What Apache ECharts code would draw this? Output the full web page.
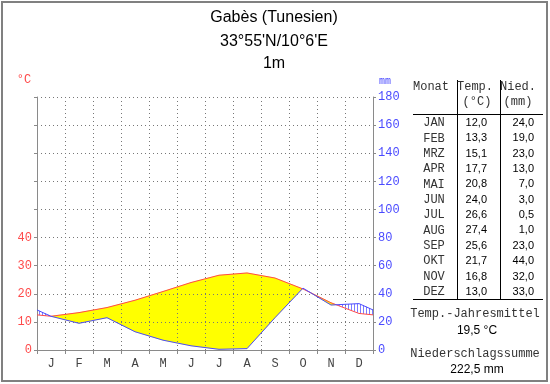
<!DOCTYPE html>
<html><head><meta charset="utf-8">
<script src="https://cdn.jsdelivr.net/npm/echarts@6/dist/echarts.min.js"></script>
<style>html,body{margin:0;padding:0;background:#fff}#c{width:550px;height:384px}</style>
</head><body><div id="c"></div>
<script>
// ---- data ----
const titleLines = ['Gabès (Tunesien)', '33°55\'N/10°6\'E', '1m'];
const monthLetters = ['J','F','M','A','M','J','J','A','S','O','N','D'];
const monthNames = ['JAN','FEB','MRZ','APR','MAI','JUN','JUL','AUG','SEP','OKT','NOV','DEZ'];
const temps = [12.0, 13.3, 15.1, 17.7, 20.8, 24.0, 26.6, 27.4, 25.6, 21.7, 16.8, 13.0];
const precip = [24.0, 19.0, 23.0, 13.0, 7.0, 3.0, 0.5, 1.0, 23.0, 44.0, 32.0, 33.0];
const tempTickLabels = [0, 10, 20, 30, 40];
const precipTickLabels = [0, 20, 40, 60, 80, 100, 120, 140, 160, 180];

// ---- derived line points (month centres, wrapped edges) ----
const edgeT = (temps[0] + temps[11]) / 2, edgeP = (precip[0] + precip[11]) / 2;
const px = [0], pT = [edgeT], pP = [edgeP];
for (let i = 0; i < 12; i++) { px.push(i + 0.5); pT.push(temps[i]); pP.push(precip[i]); }
px.push(12); pT.push(edgeT); pP.push(edgeP);

// fill geometry in mm units (1 °C = 2 mm), split at crossing points
const fx = [], fT = [], fP = [];
for (let k = 0; k < px.length; k++) {
  fx.push(px[k]); fT.push(pT[k] * 2); fP.push(pP[k]);
  if (k < px.length - 1) {
    const d1 = 2 * pT[k] - pP[k], d2 = 2 * pT[k + 1] - pP[k + 1];
    if (d1 * d2 < 0) {
      const t = d1 / (d1 - d2);
      fx.push(px[k] + t * (px[k + 1] - px[k]));
      const m = 2 * pT[k] + t * (2 * pT[k + 1] - 2 * pT[k]);
      fT.push(m); fP.push(m);
    }
  }
}
const segData = [];
for (let k = 0; k < fx.length - 1; k++) segData.push([fx[k], fx[k + 1], fT[k], fT[k + 1], fP[k], fP[k + 1]]);

const fmt = v => v.toFixed(1).replace('.', ',');
const meanT = temps.reduce((a, b) => a + b, 0) / temps.length;
const sumP = precip.reduce((a, b) => a + b, 0);

const RED = '#ff4a4a', BLUE = '#4a4aff', HATCH = '#7c7cff', GRAY = '#8a8a8a';
const MONO = 'Liberation Mono, DejaVu Sans Mono, monospace';
const SANS = 'Liberation Sans, Arial, sans-serif';

// ---- graphics: title, table ----
const g = [];
g.push({type: 'rect', shape: {x: 2, y: 2, width: 545, height: 379}, style: {fill: 'none', stroke: '#808080', lineWidth: 2}, silent: true});
const titleY = [18, 42, 64];
titleLines.forEach((t, i) => g.push({type: 'text', x: 274, y: titleY[i], style: {text: t, font: '16px ' + SANS, fill: '#000', textAlign: 'center', textVerticalAlign: 'middle'}}));
g.push({type: 'text', x: 24, y: 80, style: {text: '°C', font: '12px ' + MONO, fill: RED, textAlign: 'center', textVerticalAlign: 'middle'}});
g.push({type: 'text', x: 385, y: 81, style: {text: 'mm', font: '10px ' + MONO, fill: BLUE, textAlign: 'center', textVerticalAlign: 'middle'}});
const ln = (x1, y1, x2, y2) => g.push({type: 'line', shape: {x1, y1, x2, y2}, style: {stroke: '#000', lineWidth: 1}, silent: true});
ln(457.5, 80, 457.5, 299); ln(500.5, 80, 500.5, 299);
ln(413, 114.5, 543, 114.5); ln(413, 299.5, 543, 299.5);
const hdr = (t, x, y) => g.push({type: 'text', x, y, style: {text: t, font: '12px ' + MONO, fill: '#333', textAlign: 'center', textVerticalAlign: 'middle'}});
hdr('Monat', 431, 87); hdr('Temp.', 475, 87); hdr('(°C)', 477, 102); hdr('Nied.', 518, 87); hdr('(mm)', 518, 102);
for (let i = 0; i < 12; i++) {
  const y = 123 + i * 15.35;
  g.push({type: 'text', x: 434, y, style: {text: monthNames[i], font: '12px ' + MONO, fill: '#333', textAlign: 'center', textVerticalAlign: 'middle'}});
  g.push({type: 'text', x: 487, y, style: {text: fmt(temps[i]), font: '11px ' + SANS, fill: '#000', textAlign: 'right', textVerticalAlign: 'middle'}});
  g.push({type: 'text', x: 534, y, style: {text: fmt(precip[i]), font: '11px ' + SANS, fill: '#000', textAlign: 'right', textVerticalAlign: 'middle'}});
}
hdr('Temp.-Jahresmittel', 475, 314);
g.push({type: 'text', x: 477, y: 331, style: {text: fmt(meanT) + ' °C', font: '12px ' + SANS, fill: '#000', textAlign: 'center', textVerticalAlign: 'middle'}});
hdr('Niederschlagssumme', 475, 354);
g.push({type: 'text', x: 477, y: 370, style: {text: fmt(sumP) + ' mm', font: '12px ' + SANS, fill: '#000', textAlign: 'center', textVerticalAlign: 'middle'}});

function renderFill(params, api) {
  const x1 = api.value(0), x2 = api.value(1), t1 = api.value(2), t2 = api.value(3), p1 = api.value(4), p2 = api.value(5);
  const dsum = (t1 - p1) + (t2 - p2);
  const a = api.coord([x1, t1]), b = api.coord([x2, t2]), c = api.coord([x2, p2]), d = api.coord([x1, p1]);
  if (dsum > 0) {
    return {type: 'polygon', shape: {points: [a, b, c, d]}, style: {fill: '#ffff00', stroke: '#ffff00', lineWidth: 0.5}};
  }
  if (dsum < 0) {
    const children = [];
    for (let X = Math.ceil(a[0] / 3) * 3; X <= b[0]; X += 3) {
      const f = (X - a[0]) / (b[0] - a[0]);
      const yT = a[1] + f * (b[1] - a[1]);
      const yP = d[1] + f * (c[1] - d[1]);
      children.push({type: 'line', shape: {x1: X + 0.5, y1: yT, x2: X + 0.5, y2: yP}, style: {stroke: HATCH, lineWidth: 1}});
    }
    return {type: 'group', children};
  }
  return null;
}

const chart = echarts.init(document.getElementById('c'), null, {renderer: 'canvas'});
chart.setOption({
  animation: false,
  backgroundColor: '#fff',
  grid: {left: 37, right: 177, top: 97, bottom: 34, containLabel: false, outerBoundsMode: 'none'},
  xAxis: [
    {type: 'value', min: 0, max: 12, interval: 1, position: 'bottom',
     axisLine: {show: true, onZero: false, lineStyle: {color: GRAY, width: 1}},
     axisTick: {show: true, length: 4, inside: false, lineStyle: {color: GRAY}},
     axisLabel: {show: false},
     splitLine: {show: true, lineStyle: {color: '#777', type: [1, 3], width: 1}}},
    {type: 'category', data: monthLetters, position: 'bottom', boundaryGap: true,
     axisLine: {show: false}, axisTick: {show: false}, splitLine: {show: false},
     axisLabel: {show: true, margin: 8, color: '#444', fontFamily: MONO, fontSize: 12}}
  ],
  yAxis: [
    {type: 'value', min: 0, max: 90, interval: 10, position: 'left',
     axisLine: {show: true, onZero: false, lineStyle: {color: GRAY}},
     axisTick: {show: true, length: 3, lineStyle: {color: GRAY}},
     splitLine: {show: false},
     axisLabel: {show: true, margin: 5, color: RED, fontFamily: MONO, fontSize: 12,
       formatter: v => tempTickLabels.indexOf(v) >= 0 ? String(v) : ''}},
    {type: 'value', min: 0, max: 180, interval: 20, position: 'right',
     axisLine: {show: true, onZero: false, lineStyle: {color: GRAY}},
     axisTick: {show: true, length: 3, lineStyle: {color: GRAY}},
     splitLine: {show: true, lineStyle: {color: '#777', type: [1, 3], width: 1}},
     axisLabel: {show: true, margin: 5, color: BLUE, fontFamily: MONO, fontSize: 12,
       formatter: v => precipTickLabels.indexOf(v) >= 0 ? String(v) : ''}}
  ],
  series: [
    {name: 'fill', type: 'custom', xAxisIndex: 0, yAxisIndex: 1, data: segData,
     renderItem: renderFill, encode: {x: [0, 1], y: [2, 3, 4, 5]}, silent: true, z: -1},
    {name: 'Temp', type: 'line', xAxisIndex: 0, yAxisIndex: 0, data: px.map((x, i) => [x, pT[i]]),
     showSymbol: false, symbol: 'none', lineStyle: {color: RED, width: 1}, silent: true, z: 3},
    {name: 'Nied', type: 'line', xAxisIndex: 0, yAxisIndex: 1, data: px.map((x, i) => [x, pP[i]]),
     showSymbol: false, symbol: 'none', lineStyle: {color: BLUE, width: 1}, silent: true, z: 3}
  ],
  graphic: g
});
</script></body></html>
